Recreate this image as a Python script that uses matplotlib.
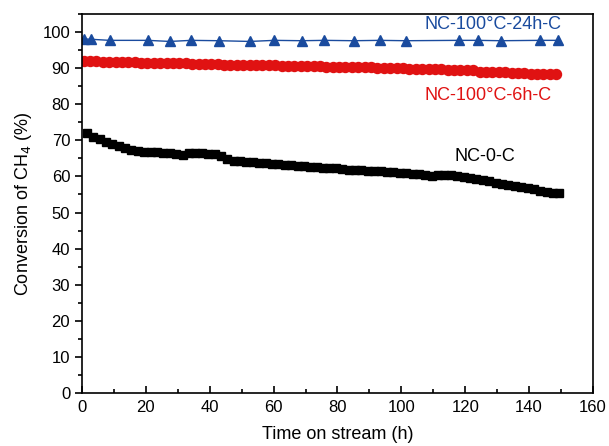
import matplotlib
matplotlib.use("Agg")
import matplotlib.pyplot as plt
from matplotlib.ticker import MultipleLocator

plt.rcParams['font.family'] = ['Liberation Sans', 'DejaVu Sans']

# NC-100°C-24h-C (blue triangles)
t_24h = [0.6, 2.8, 8.7, 20.6, 27.5, 34.2, 42.8, 52.6, 60.2, 68.8, 75.9, 85.1, 93.2,
         101.3, 118.1, 123.9, 131.1, 143.3, 149.2]
y_24h = [98.1, 98.0, 97.7, 97.7, 97.4, 97.7, 97.6, 97.4, 97.7, 97.6, 97.7, 97.6, 97.7,
         97.6, 97.7, 97.7, 97.6, 97.7, 97.7]

# NC-100°C-6h-C (red circles)
t_6h = [0.5, 2.5, 4.5, 6.5, 8.5, 10.5, 12.5, 14.5, 16.5, 18.5, 20.5, 22.5, 24.5, 26.5,
        28.5, 30.5, 32.5, 34.5, 36.5, 38.5, 40.5, 42.5, 44.5, 46.5, 48.5, 50.5, 52.5,
        54.5, 56.5, 58.5, 60.5, 62.5, 64.5, 66.5, 68.5, 70.5, 72.5, 74.5, 76.5, 78.5,
        80.5, 82.5, 84.5, 86.5, 88.5, 90.5, 92.5, 94.5, 96.5, 98.5, 100.5, 102.5, 104.5,
        106.5, 108.5, 110.5, 112.5, 114.5, 116.5, 118.5, 120.5, 122.5, 124.5, 126.5,
        128.5, 130.5, 132.5, 134.5, 136.5, 138.5, 140.5, 142.5, 144.5, 146.5, 148.5]
y_6h = [92.0, 91.9, 91.9, 91.8, 91.8, 91.7, 91.7, 91.6, 91.6, 91.5, 91.5, 91.5, 91.4, 91.4,
        91.3, 91.3, 91.3, 91.2, 91.2, 91.1, 91.1, 91.1, 91.0, 91.0, 91.0, 90.9, 90.9,
        90.9, 90.8, 90.8, 90.8, 90.7, 90.7, 90.6, 90.6, 90.6, 90.5, 90.5, 90.4, 90.4,
        90.4, 90.3, 90.3, 90.2, 90.2, 90.2, 90.1, 90.1, 90.0, 90.0, 90.0, 89.9, 89.9,
        89.8, 89.8, 89.7, 89.7, 89.6, 89.6, 89.6, 89.5, 89.6, 89.0, 88.9,
        88.9, 88.8, 88.8, 88.7, 88.6, 88.6, 88.5, 88.4, 88.4, 88.4, 88.4]

# NC-0-C (black squares)
t_0 = [1.5, 3.5, 5.5, 7.5, 9.5, 11.5, 13.5, 15.5, 17.5, 19.5, 21.5, 23.5, 25.5, 27.5,
       29.5, 31.5, 33.5, 35.5, 37.5, 39.5, 41.5, 43.5, 45.5, 47.5, 49.5, 51.5, 53.5,
       55.5, 57.5, 59.5, 61.5, 63.5, 65.5, 67.5, 69.5, 71.5, 73.5, 75.5, 77.5, 79.5,
       81.5, 83.5, 85.5, 87.5, 89.5, 91.5, 93.5, 95.5, 97.5, 99.5, 101.5, 103.5, 105.5,
       107.5, 109.5, 111.5, 113.5, 115.5, 117.5, 119.5, 121.5, 123.5, 125.5, 127.5,
       129.5, 131.5, 133.5, 135.5, 137.5, 139.5, 141.5, 143.5, 145.5, 147.5, 149.5]
y_0 = [72.0, 71.0, 70.3, 69.5, 68.9, 68.4, 67.9, 67.4, 67.0, 66.9, 66.8, 66.7, 66.5, 66.4,
       66.2, 66.0, 66.6, 66.5, 66.4, 66.3, 66.2, 65.8, 64.8, 64.3, 64.2, 64.0, 63.9,
       63.8, 63.7, 63.5, 63.4, 63.3, 63.1, 62.9, 62.8, 62.7, 62.6, 62.4, 62.3, 62.2,
       62.0, 61.9, 61.8, 61.7, 61.6, 61.5, 61.4, 61.3, 61.2, 61.0, 60.9, 60.8, 60.6,
       60.4, 60.2, 60.3, 60.4, 60.4, 60.2, 59.9, 59.6, 59.2, 58.9, 58.6,
       58.3, 58.0, 57.7, 57.4, 57.1, 56.8, 56.4, 56.0, 55.7, 55.5, 55.3]

labels = ["NC-100°C-24h-C", "NC-100°C-6h-C", "NC-0-C"]
colors = ["#1a4b9e", "#e01212", "#000000"]

fig = plt.figure(figsize=(6.09, 4.46), dpi=100)
ax = fig.add_axes([0.1346, 0.1188, 0.8391, 0.8498])

ax.plot(t_24h, y_24h, color=colors[0], marker='^', markersize=7, linewidth=1.0)
ax.plot(t_6h, y_6h, color=colors[1], marker='o', markersize=7.2, linewidth=1.0)
ax.plot(t_0, y_0, color=colors[2], marker='s', markersize=5.2, linewidth=1.0)

ax.text(107.4, 102.2, labels[0], color=colors[0], fontsize=13, va='center', ha='left')
ax.text(107.4, 82.3, labels[1], color=colors[1], fontsize=13, va='center', ha='left')
ax.text(116.5, 65.6, labels[2], color=colors[2], fontsize=13, va='center', ha='left')

ax.set_xlim(0, 160)
ax.set_ylim(0, 105)
ax.xaxis.set_major_locator(MultipleLocator(20))
ax.xaxis.set_minor_locator(MultipleLocator(10))
ax.yaxis.set_major_locator(MultipleLocator(10))
ax.yaxis.set_minor_locator(MultipleLocator(5))
ax.tick_params(axis='x', which='both', direction='in', top=False, labelsize=12, pad=5)
ax.tick_params(axis='y', which='both', direction='out', right=False, labelsize=12)
ax.tick_params(which='major', length=5, width=1.2)
ax.tick_params(which='minor', length=3, width=1.2)
for s in ax.spines.values():
    s.set_linewidth(1.2)

ax.set_xlabel("Time on stream (h)", fontsize=13, labelpad=8)
ax.set_ylabel("Conversion of CH$_4$ (%)", fontsize=13, labelpad=6)

fig.savefig("out.png", dpi=100)
